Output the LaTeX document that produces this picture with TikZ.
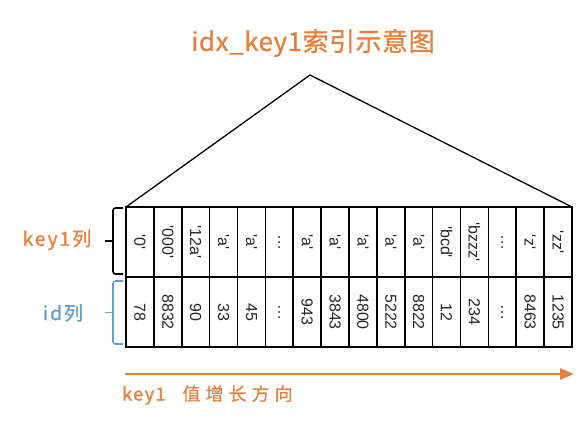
\documentclass[tikz,border=0pt]{standalone}
\usepackage{fontspec}
\newfontfamily\cellfont{Liberation Sans}
\newfontfamily\cjk{Noto Sans CJK SC}
\usetikzlibrary{arrows.meta,calc}
\definecolor{korange}{RGB}{229,128,61}
\definecolor{kblue}{RGB}{100,160,205}
\begin{document}
\begin{tikzpicture}[x=1pt,y=-1pt,
  cell/.style={draw, line width=1.7pt, rotate=-90, minimum width=70pt,
    minimum height=27.875pt, inner sep=0pt, outer sep=0pt,
    font=\cellfont\fontsize{16}{18}\selectfont, text=black!85},
  bracestyle/.style={line width=1.6pt, rounded corners=2.5pt},
  lbl/.style={inner sep=0pt, font=\cjk\fontsize{19}{22}\selectfont\addfontfeature{LetterSpace=11,FakeBold=1.2}}]
\useasboundingbox (0,0) rectangle (588,421);
% title
\node[inner sep=0pt, text=korange, font=\cjk\fontsize{26}{30}\selectfont\addfontfeature{LetterSpace=2,FakeBold=0.8}] (title) at (313,43) {idx\_key1索引示意图};
% cells
\foreach \k [count=\i] in {'0','000','12a','a','a',…,'a','a','a','a','a','bcd','bzzz',…,'z','zz'}
  \node[cell] (k\i) at ({126+27.875*(\i-0.5)},242) {\k};
\foreach \d [count=\i] in {78,8832,90,33,45,…,943,3843,4800,5222,8822,12,234,…,8463,1235}
  \node[cell] (d\i) at ({126+27.875*(\i-0.5)},312) {\d};
% triangle
\coordinate (apex) at (310,75);
\draw[line width=1.3pt, line join=miter] (k1.south west) -- (apex) -- (k16.north west);
% braces
\coordinate (kb1) at (123,208);
\coordinate (kb2) at (123,274);
\coordinate (db1) at (123,281);
\coordinate (db2) at (123,344);
\draw[bracestyle, black] (kb1) -- ++(-10,0) -- ($(kb2)+(-10,0)$) -- (kb2);
\draw[black, line width=1.6pt] ($(kb1)!0.5!(kb2)+(-10,0)$) -- ++(-8,0);
\draw[bracestyle, kblue] (db1) -- ++(-10,0) -- ($(db2)+(-10,0)$) -- (db2);
\draw[kblue, line width=1.6pt] ($(db1)!0.5!(db2)+(-10,0)$) -- ++(-8,0);
\node[lbl, text=korange] (klbl) at (57,240) {key1列};
\node[lbl, text=kblue] (dlbl) at (63,313) {id列};
% arrow
\coordinate (as) at (125,374);
\coordinate (ae) at (574,374);
\draw[korange, line width=2.5pt, -{Triangle[length=14pt,width=11pt]}] (as) -- (ae);
\node[anchor=west, inner sep=0pt, text=korange, font=\cjk\fontsize{18}{22}\selectfont] (albl) at (122,395)
  {\addfontfeature{LetterSpace=8,FakeBold=1.5}key1\hspace{17pt}\addfontfeature{LetterSpace=28,FakeBold=0.6}值增长方向};
\end{tikzpicture}
\end{document}
